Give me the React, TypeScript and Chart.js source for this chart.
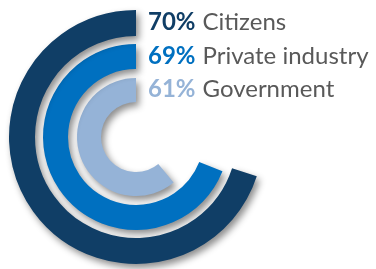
import React, { useEffect, useRef } from "react";
import { Chart, registerables } from "chart.js";

Chart.register(...registerables);

const categories = ["Citizens", "Private industry", "Government"];
const values = [70, 69, 61];
const colors = ["#103e66", "#0070c0", "#95b3d7"];
const ringWeights = [26, 25, 24];
const gapWeights = [8, 9];

const TEXT_FONT = "Lato, 'Open Sans', sans-serif";

export default function App() {
  const ref = useRef<HTMLCanvasElement | null>(null);

  useEffect(() => {
    if (!ref.current) return;
    const datasets: any[] = [];
    values.forEach((v, i) => {
      datasets.push({
        label: categories[i],
        data: [100 - v, v],
        backgroundColor: ["rgba(0,0,0,0)", colors[i]],
        borderWidth: 0,
        weight: ringWeights[i],
      });
      if (i < gapWeights.length) {
        datasets.push({
          label: "gap" + i,
          data: [100],
          backgroundColor: ["rgba(0,0,0,0)"],
          borderWidth: 0,
          weight: gapWeights[i],
        });
      }
    });

    const shadowPlugin = {
      id: "shadow",
      beforeDatasetsDraw(chart: any) {
        const ctx = chart.ctx;
        ctx.save();
        ctx.shadowColor = "rgba(0,0,0,0.45)";
        ctx.shadowBlur = 7;
        ctx.shadowOffsetX = 3;
        ctx.shadowOffsetY = 4;
      },
      afterDatasetsDraw(chart: any) {
        chart.ctx.restore();
      },
    };

    const labelPlugin = {
      id: "labels",
      afterDraw(chart: any) {
        const ctx = chart.ctx;
        values.forEach((v, i) => {
          const meta = chart.getDatasetMeta(i * 2);
          const arc = meta.data[1];
          if (!arc) return;
          const cx = arc.x;
          const cy = arc.y;
          const mid = (arc.outerRadius + arc.innerRadius) / 2;
          const x = cx + 12;
          const y = cy - mid + 7;
          ctx.save();
          ctx.textBaseline = "alphabetic";
          ctx.textAlign = "left";
          ctx.font = "bold 24px " + TEXT_FONT;
          ctx.fillStyle = colors[i];
          const num = v + "%";
          ctx.fillText(num, x, y);
          const w = ctx.measureText(num).width;
          ctx.font = "24px " + TEXT_FONT;
          ctx.fillStyle = "#595959";
          ctx.fillText(categories[i], x + w + 7, y);
          ctx.restore();
        });
      },
    };

    const chart = new Chart(ref.current, {
      type: "doughnut",
      data: { labels: ["rest", "value"], datasets },
      options: {
        responsive: false,
        animation: false,
        events: [],
        cutout: 35,
        layout: { padding: { left: 9, right: 113, top: 10, bottom: 5 } },
        plugins: {
          legend: { display: false },
          tooltip: { enabled: false },
        },
      },
      plugins: [shadowPlugin, labelPlugin],
    } as any);
    return () => chart.destroy();
  }, []);

  return (
    <div style={{ position: "fixed", left: 0, top: 0, width: 376, height: 269, background: "#fff" }}>
      <canvas ref={ref} width={376} height={269} style={{ display: "block" }} />
    </div>
  );
}
